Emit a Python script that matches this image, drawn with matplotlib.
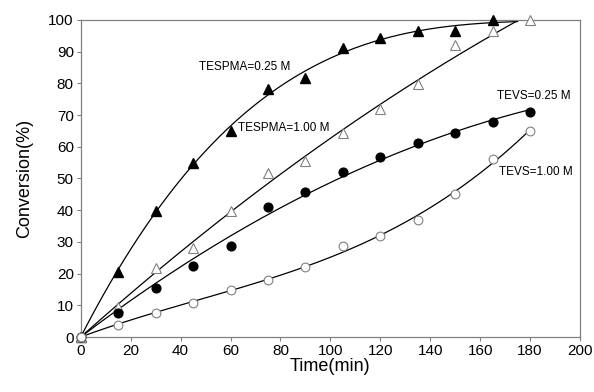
import numpy as np
import matplotlib
matplotlib.use("Agg")
import matplotlib.pyplot as plt

plt.rcParams['font.family'] = ['Liberation Sans', 'DejaVu Sans']

time = [0, 15, 30, 45, 60, 75, 90, 105, 120, 135, 150, 165, 180]
tespma_025 = [0, 20.6, 39.8, 54.8, 65.1, 78.3, 81.6, 91.1, 94.4, 96.6, 96.6, 100]
tespma_100 = [0, 9.6, 21.9, 28.2, 39.6, 51.6, 55.5, 64.5, 71.8, 79.7, 92.1, 96.6, 100]
tevs_025 = [0, 7.5, 15.4, 22.4, 28.7, 40.9, 45.8, 52.1, 56.8, 61.3, 64.5, 67.7, 71.1]
tevs_100 = [0, 3.8, 7.7, 10.8, 14.8, 18.0, 22.0, 28.8, 31.9, 37.0, 45.1, 56.2, 65.1]

xticks = [0, 20, 40, 60, 80, 100, 120, 140, 160, 180, 200]
yticks = [0, 10, 20, 30, 40, 50, 60, 70, 80, 90, 100]

fig = plt.figure(figsize=(5.94, 3.92), dpi=100)
ax = fig.add_axes([0.1359, 0.1403, 0.8405, 0.8087])

def fit_curve(t, v, deg, tmax):
    t = np.asarray(t, float); v = np.asarray(v, float)
    A = np.vstack([t ** k for k in range(1, deg + 1)]).T
    c, *_ = np.linalg.lstsq(A, v, rcond=None)
    tt = np.linspace(0, tmax, 300)
    vv = sum(c[k - 1] * tt ** k for k in range(1, deg + 1))
    mask = vv <= 100.2
    return tt[mask], np.minimum(vv[mask], 100)

gray = '#808080'
t1 = time[:len(tespma_025)]
for tv, vals, deg, tmax in [(t1, tespma_025, 3, 175), (time, tespma_100, 2, 180),
                            (time, tevs_025, 2, 180), (time, tevs_100, 3, 180)]:
    x, y = fit_curve(tv, vals, deg, tmax)
    ax.plot(x, y, color='black', lw=0.9)

ax.plot(t1, tespma_025, linestyle='none', marker='^', ms=6.8, mfc='black', mec='black', clip_on=False, zorder=5)
ax.plot(time, tespma_100, linestyle='none', marker='^', ms=6.8, mfc='white', mec=gray, mew=0.8, clip_on=False, zorder=5)
ax.plot(time, tevs_025, linestyle='none', marker='o', ms=6.3, mfc='black', mec='black', clip_on=False, zorder=5)
ax.plot(time, tevs_100, linestyle='none', marker='o', ms=6.3, mfc='white', mec=gray, mew=0.8, clip_on=False, zorder=5)

ax.set_xlim(0, 200)
ax.set_ylim(0, 100)
ax.set_xticks(xticks)
ax.set_yticks(yticks)
for s in ax.spines.values():
    s.set_color(gray)
    s.set_linewidth(0.9)
ax.tick_params(direction='out', length=3, width=0.8, color=gray, labelsize=11, pad=2,
               top=False, right=False)

ax.set_xlabel('Time(min)', fontsize=13, labelpad=0)
ax.set_ylabel('Conversion(%)', fontsize=13, labelpad=11)

ax.annotate('TESPMA=0.25 M', xy=(245 / 594, 1 - 66.7 / 392), xycoords='figure fraction', fontsize=8.5, ha='center', va='center')
ax.annotate('TESPMA=1.00 M', xy=(283.5 / 594, 1 - 128.3 / 392), xycoords='figure fraction', fontsize=8.5, ha='center', va='center')
ax.annotate('TEVS=0.25 M', xy=(533.5 / 594, 1 - 95.7 / 392), xycoords='figure fraction', fontsize=8.5, ha='center', va='center')
ax.annotate('TEVS=1.00 M', xy=(536 / 594, 1 - 172.3 / 392), xycoords='figure fraction', fontsize=8.5, ha='center', va='center')

fig.savefig('out.png', dpi=100)
